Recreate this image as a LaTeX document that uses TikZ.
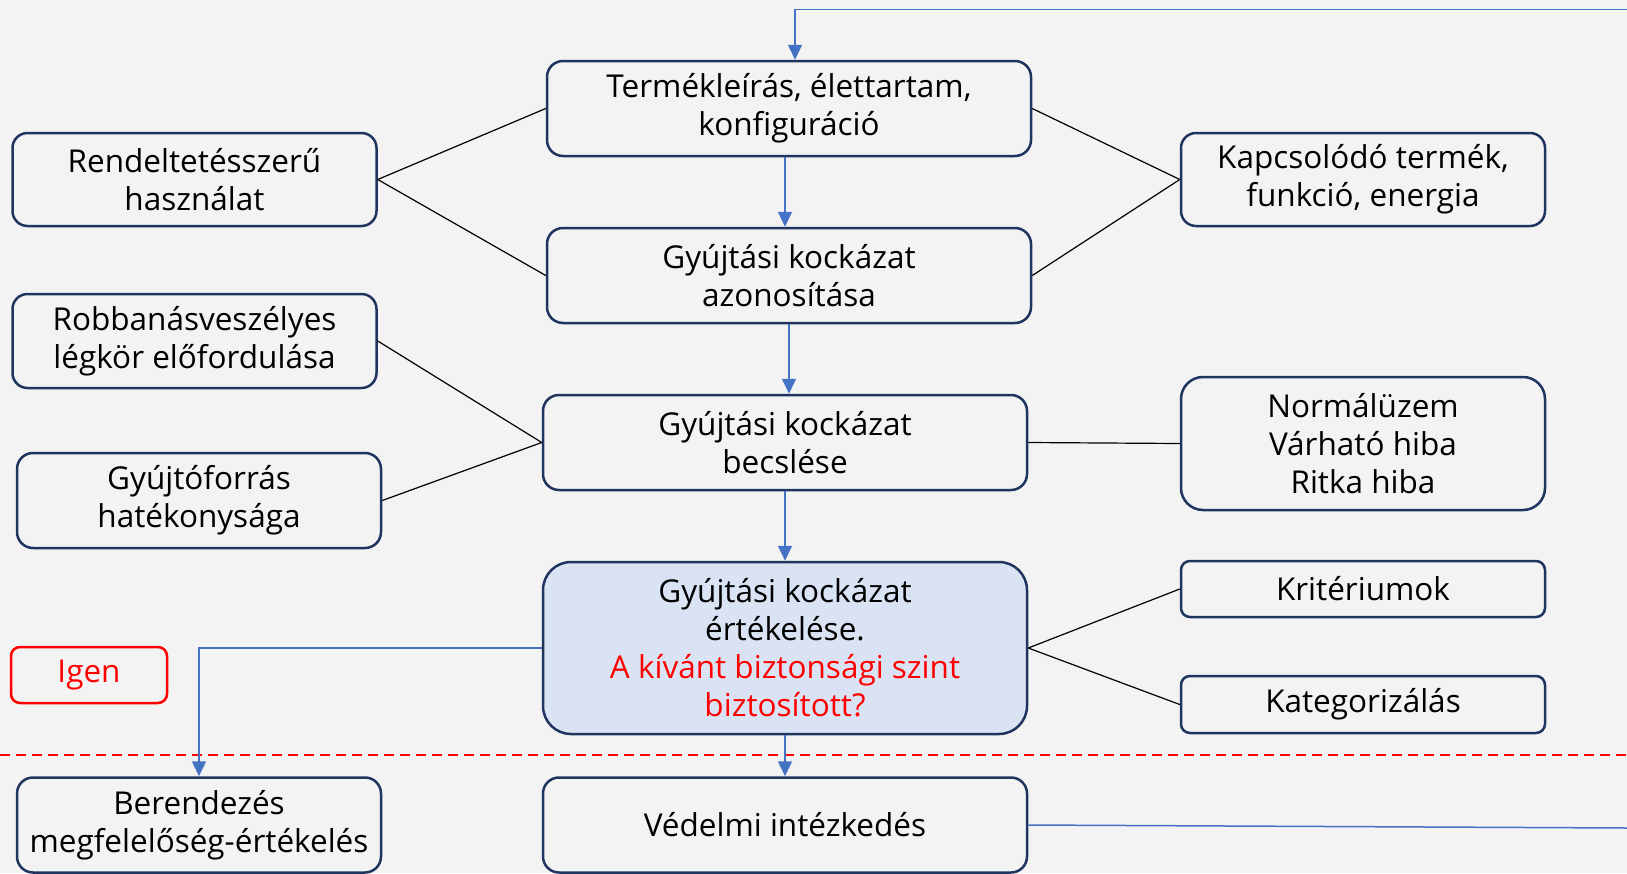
\documentclass[tikz,border=0pt]{standalone}
\usepackage{fontspec}
\setmainfont{Open Sans}
\usetikzlibrary{arrows.meta,calc}
\definecolor{bg}{HTML}{F3F3F3}
\definecolor{navy}{HTML}{1F3560}
\definecolor{arrblue}{HTML}{4472C4}
\definecolor{evalfill}{HTML}{DAE3F3}
\definecolor{myred}{HTML}{FF0000}
\newcommand\boxfont{\fontsize{31.5}{38}\selectfont}
\tikzset{
  box/.style={draw=navy, line width=2.5pt, align=center, font=\boxfont, inner sep=0pt, text=black, fill=bg},
  wide/.style={minimum width=484pt},
  side/.style={minimum width=364pt},
  conn/.style={draw=black, line width=1.2pt},
  arr/.style={draw=arrblue, line width=1.5pt, -{Triangle[width=14pt,length=15pt]}},
  plain/.style={draw=arrblue, line width=1.5pt},
}
\begin{document}
\begin{tikzpicture}[x=1pt,y=-1pt]
\fill[bg] (0,0) rectangle (1627,873);
\useasboundingbox (0,0) rectangle (1627,873);

% nodes
\node[box, wide, minimum height=95pt, rounded corners=16pt] (T) at (789,108.5) {Termékleírás, élettartam,\\konfiguráció};
\node[box, side, minimum height=93pt, rounded corners=15pt] (R) at (194.5,179.5) {Rendeltetésszerű\\használat};
\node[box, side, minimum height=93pt, rounded corners=15pt] (K) at (1363,179.5) {Kapcsolódó termék,\\funkció, energia};
\node[box, wide, minimum height=95pt, rounded corners=16pt] (GA) at (789,275.5) {Gyújtási kockázat\\azonosítása};
\node[box, side, minimum height=94pt, rounded corners=15pt] (Rob) at (194.5,341) {Robbanásveszélyes\\légkör előfordulása};
\node[box, wide, minimum height=95pt, rounded corners=16pt] (GB) at (785,442.5) {Gyújtási kockázat\\becslése};
\node[box, side, minimum height=95pt, rounded corners=16pt] (Gyf) at (199,500.5) {Gyújtóforrás\\hatékonysága};
\node[box, side, minimum height=133pt, rounded corners=22pt] (Norm) at (1363,443.5) {Normálüzem\\Várható hiba\\Ritka hiba};
\node[box, wide, minimum height=172pt, rounded corners=28pt, fill=evalfill] (E) at (785,648) {Gyújtási kockázat\\értékelése.\\\textcolor{myred}{A kívánt biztonsági szint}\\\textcolor{myred}{biztosított?}};
\node[box, side, minimum height=56pt, rounded corners=9pt] (Krit) at (1363,589) {Kritériumok};
\node[box, side, minimum height=57pt, rounded corners=9pt] (Kat) at (1363,704.5) {Kategorizálás};
\node[box, draw=myred, text=myred, minimum width=156pt, minimum height=56pt, rounded corners=9pt] (Igen) at (89,675) {Igen};
\node[box, side, minimum height=95pt, rounded corners=16pt] (Ber) at (199,825) {Berendezés\\megfelelőség-értékelés};
\node[box, wide, minimum height=95pt, rounded corners=16pt] (Ved) at (785,825) {Védelmi intézkedés};

% dashed separator
\draw[myred, line width=1.8pt, dash pattern=on 10pt off 6pt] (0,755) -- (1627,755);

% black connectors
\draw[conn] (R.east) -- (T.west);
\draw[conn] (R.east) -- (GA.west);
\draw[conn] (K.west) -- (T.east);
\draw[conn] (K.west) -- (GA.east);
\draw[conn] (Rob.east) -- (GB.west);
\draw[conn] (Gyf.east) -- (GB.west);
\draw[conn] (GB.east) -- (Norm.west);
\draw[conn] (E.east) -- (Krit.west);
\draw[conn] (E.east) -- (Kat.west);

% blue arrows
\draw[arr] ([xshift=-4pt]T.south) -- ([xshift=-4pt]GA.north);
\draw[arr] (GA.south) -- (GA.south |- GB.north);
\draw[arr] (GB.south) -- (E.north);
\draw[arr] (E.south) -- (Ved.north);
\draw[arr] (E.west) -| (Ber.north);
\coordinate (rb) at (1627,828);
\coordinate (rt) at (1627,9.5);
\draw[plain] (Ved.east) -- (rb);
\draw[arr] (rt) -| ([xshift=6pt]T.north);
\end{tikzpicture}
\end{document}
